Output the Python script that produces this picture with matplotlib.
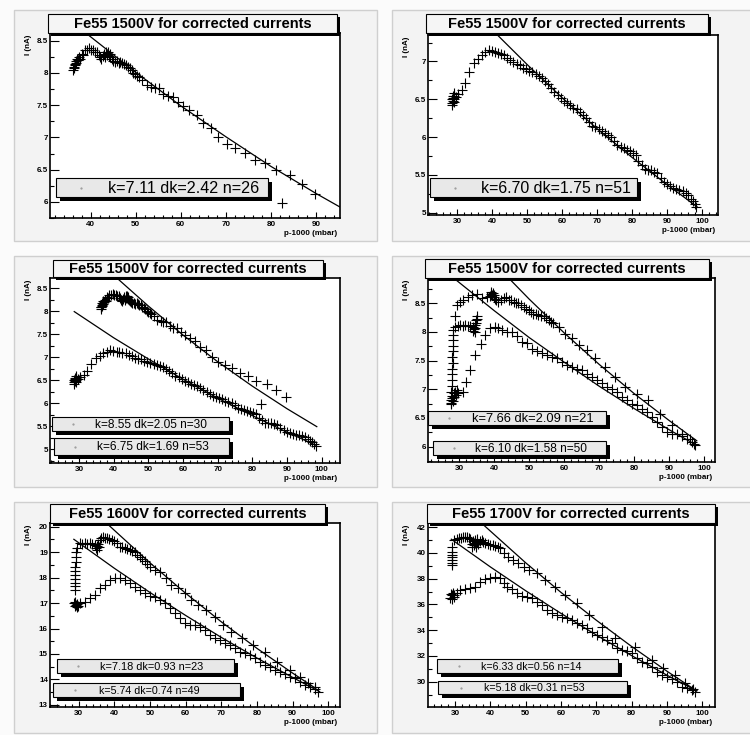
import matplotlib
matplotlib.use("Agg")
import matplotlib.pyplot as plt
from matplotlib.patches import Rectangle
from matplotlib.ticker import MultipleLocator, FuncFormatter

plt.rcParams['font.family'] = ['Liberation Sans', 'DejaVu Sans']
plt.rcParams['font.weight'] = 'bold'

# ---- Fe55 1500V, first run (upper curve of the middle-left pad) ----
fe1500_a_x = [36.2, 36.3, 36.4, 36.5, 36.6, 36.7, 36.8, 37.0, 37.2, 37.4, 37.7, 38.0,
              38.3, 38.7, 39.2, 39.7, 40.2, 40.6, 41.0, 41.4, 41.8, 42.1, 42.4, 42.7,
              43.0, 43.2, 43.4, 43.6, 43.8, 44.0, 44.2, 44.4, 44.7, 45.0, 45.4, 45.8,
              46.2, 46.6, 47.0, 47.4, 47.8, 48.2, 48.7, 49.1, 49.5, 49.9, 50.4, 50.8,
              51.5, 52.4, 53.5, 54.3, 55.2, 56.1, 57.2, 58.3, 59.4, 60.5, 61.9, 63.5,
              65.0, 66.6, 68.3, 70.2, 72.0, 74.2, 76.4, 78.7, 81.2, 82.4, 84.2, 86.8, 89.7]
fe1500_a_y = [8.05, 8.10, 8.08, 8.14, 8.12, 8.18, 8.16, 8.22, 8.20, 8.25, 8.22, 8.30,
              8.28, 8.35, 8.36, 8.38, 8.36, 8.35, 8.32, 8.33, 8.28, 8.25, 8.22, 8.27,
              8.30, 8.25, 8.32, 8.28, 8.33, 8.27, 8.30, 8.24, 8.22, 8.19, 8.17, 8.18,
              8.15, 8.17, 8.16, 8.14, 8.13, 8.10, 8.07, 8.04, 8.00, 7.99, 7.96, 7.94,
              7.89, 7.81, 7.78, 7.76, 7.76, 7.68, 7.64, 7.63, 7.55, 7.48, 7.42, 7.35,
              7.23, 7.15, 7.01, 6.90, 6.83, 6.76, 6.65, 6.60, 6.49, 5.98, 6.41, 6.28, 6.13]

# ---- Fe55 1500V, second run (top-right pad, lower curve of middle-left pad) ----
fe1500_b_x = [28.5, 28.6, 28.7, 28.8, 28.9, 29.0, 29.1, 29.2, 28.6, 29.0, 29.6, 30.3,
              31.3, 32.3, 33.5, 34.8, 36.0, 37.0, 38.0, 39.0, 39.9, 40.8, 41.6, 42.5,
              43.4, 44.3, 45.2, 46.1, 47.0, 47.9, 48.8, 49.7, 50.6, 51.5, 52.4, 53.3,
              54.2, 55.1, 56.0, 56.9, 57.8, 58.7, 59.6, 60.5, 61.4, 62.3, 63.2, 64.1,
              65.0, 65.9, 66.8, 67.7, 68.6, 69.5, 70.4, 71.3, 72.2, 73.1, 74.0, 74.9,
              75.8, 76.7, 77.6, 78.5, 79.4, 80.3, 81.0, 81.8, 82.7, 83.6, 84.5, 85.4,
              86.3, 87.2, 88.1, 89.0, 89.9, 90.8, 91.7, 92.6, 93.5, 94.4, 95.3, 96.0,
              96.7, 97.3, 97.9, 98.3]
fe1500_b_y = [6.45, 6.50, 6.55, 6.48, 6.52, 6.46, 6.58, 6.50, 6.42, 6.54, 6.53, 6.57,
              6.62, 6.71, 6.86, 6.98, 7.03, 7.09, 7.12, 7.15, 7.14, 7.12, 7.11, 7.10,
              7.08, 7.05, 7.02, 6.99, 6.97, 6.95, 6.92, 6.90, 6.88, 6.86, 6.84, 6.81,
              6.78, 6.74, 6.70, 6.65, 6.60, 6.56, 6.52, 6.48, 6.45, 6.42, 6.39, 6.37,
              6.33, 6.29, 6.25, 6.20, 6.15, 6.13, 6.11, 6.08, 6.05, 6.03, 6.00, 5.95,
              5.89, 5.87, 5.85, 5.83, 5.81, 5.79, 5.76, 5.68, 5.63, 5.58, 5.57, 5.56,
              5.54, 5.52, 5.46, 5.41, 5.38, 5.35, 5.33, 5.31, 5.30, 5.29, 5.26, 5.23,
              5.18, 5.15, 5.12, 5.08]

# ---- Fe55 1500V, middle-right pad ----
fe1500_c_up_x = [27.8, 27.9, 27.8, 27.9, 28.0, 27.9, 28.0, 28.1, 28.0, 28.1, 28.2, 28.1,
                 28.2, 28.3, 28.9, 29.6, 30.3, 31.0, 31.7, 32.4, 33.1, 33.8, 34.0, 34.2,
                 34.4, 34.6, 34.8, 35.0, 35.1, 34.9, 34.5, 28.7, 29.3, 30.2, 31.0, 32.5,
                 33.6, 35.0, 36.5, 37.9, 38.8, 39.0, 39.2, 39.4, 39.6, 39.8, 40.0, 40.3,
                 40.6, 41.2, 42.0, 42.7, 43.4, 44.1, 44.8, 45.5, 46.2, 46.9, 47.7, 48.4,
                 49.1, 49.8, 50.5, 51.2, 51.9, 52.6, 53.4, 54.1, 54.8, 55.5, 56.2, 56.9,
                 58.4, 60.3, 62.2, 64.1, 66.4, 68.8, 71.7, 74.5, 77.4, 80.7, 84.0, 87.4,
                 90.7, 93.6, 95.9, 96.9]
fe1500_c_up_y = [6.75, 6.85, 6.95, 7.05, 7.16, 7.26, 7.36, 7.46, 7.56, 7.66, 7.76, 7.86,
                 7.95, 8.04, 8.09, 8.10, 8.12, 8.11, 8.12, 8.10, 8.11, 8.02, 8.08, 8.05,
                 8.12, 8.07, 8.16, 8.22, 8.27, 8.20, 8.00, 8.27, 8.47, 8.52, 8.56, 8.60,
                 8.65, 8.66, 8.59, 8.60, 8.62, 8.66, 8.70, 8.64, 8.68, 8.60, 8.65, 8.58,
                 8.55, 8.52, 8.56, 8.59, 8.60, 8.56, 8.55, 8.53, 8.51, 8.50, 8.47, 8.44,
                 8.40, 8.38, 8.34, 8.32, 8.31, 8.30, 8.28, 8.27, 8.24, 8.21, 8.18, 8.15,
                 8.09, 7.97, 7.89, 7.77, 7.68, 7.54, 7.39, 7.21, 7.04, 6.92, 6.81, 6.57,
                 6.37, 6.22, 6.13, 6.05]
fe1500_c_lo_x = [27.6, 27.8, 28.0, 28.2, 28.4, 28.6, 28.8, 29.0, 29.3, 29.8, 31.0, 31.9,
                 33.1, 34.6, 36.3, 37.4, 38.8, 40.3, 41.2, 42.2, 43.6, 45.0, 46.5, 47.9,
                 49.3, 50.7, 52.2, 53.6, 55.0, 56.5, 57.9, 59.3, 60.7, 62.2, 63.6, 65.0,
                 66.4, 67.9, 69.3, 70.7, 72.2, 73.6, 75.0, 76.4, 77.9, 79.3, 80.7, 82.1,
                 83.6, 85.0, 86.4, 87.9, 89.3, 90.7, 92.1, 93.6, 95.0, 96.4, 97.2]
fe1500_c_lo_y = [6.76, 6.82, 6.88, 6.80, 6.93, 6.86, 6.95, 6.90, 6.98, 6.94, 6.95, 7.13,
                 7.33, 7.59, 7.78, 7.94, 8.06, 8.09, 8.06, 8.03, 8.00, 7.99, 7.92, 7.83,
                 7.80, 7.71, 7.66, 7.64, 7.59, 7.57, 7.54, 7.48, 7.43, 7.39, 7.36, 7.33,
                 7.27, 7.21, 7.16, 7.10, 7.04, 7.01, 6.95, 6.86, 6.81, 6.75, 6.72, 6.66,
                 6.60, 6.51, 6.43, 6.34, 6.25, 6.22, 6.22, 6.19, 6.13, 6.08, 6.02]

# ---- Fe55 1600V ----
fe1600_up_x = [28.8, 28.9, 28.8, 28.9, 29.0, 28.9, 29.0, 29.1, 29.2, 29.3, 29.5, 30.3,
               31.0, 31.7, 32.4, 33.1, 33.8, 34.5, 34.8, 35.0, 35.2, 35.4, 35.6, 35.9,
               36.3, 36.8, 37.3, 37.8, 38.5, 39.2, 39.9, 40.6, 41.5, 42.2, 42.9, 43.6,
               44.3, 45.0, 45.7, 46.4, 47.1, 47.8, 48.5, 49.2, 49.9, 51.3, 52.7, 54.6,
               56.0, 57.9, 59.7, 61.6, 63.5, 65.8, 68.2, 70.5, 72.8, 75.7, 78.9, 82.2,
               85.5, 89.2, 92.0, 94.4, 96.2]
fe1600_up_y = [17.50, 17.65, 17.80, 17.95, 18.10, 18.25, 18.40, 18.60, 18.80, 19.00, 19.15, 19.35,
               19.33, 19.35, 19.32, 19.35, 19.30, 19.28, 19.15, 19.22, 19.10, 19.30, 19.18, 19.48,
               19.55, 19.60, 19.55, 19.54, 19.50, 19.48, 19.42, 19.35, 19.20, 19.18, 19.15, 19.12,
               19.08, 19.03, 19.00, 18.90, 18.82, 18.72, 18.63, 18.53, 18.43, 18.30, 18.23, 17.97,
               17.71, 17.58, 17.38, 17.12, 16.92, 16.73, 16.47, 16.14, 15.88, 15.62, 15.35, 15.09,
               14.70, 14.37, 14.08, 13.85, 13.72]
fe1600_lo_x = [28.6, 28.8, 29.0, 29.2, 29.4, 29.6, 29.8, 30.3, 31.7, 33.1, 34.5, 35.9,
               37.3, 38.7, 40.1, 41.5, 42.9, 44.3, 45.7, 47.1, 48.5, 49.9, 51.3, 52.7,
               54.1, 55.5, 56.9, 58.3, 59.7, 61.2, 62.6, 64.0, 65.4, 66.8, 68.2, 69.6,
               71.0, 72.4, 73.8, 75.2, 76.6, 78.0, 79.4, 80.8, 82.2, 83.6, 85.0, 86.4,
               87.8, 89.2, 90.6, 92.0, 93.4, 94.8, 96.2, 97.2]
fe1600_lo_y = [16.99, 16.90, 17.05, 16.92, 16.97, 16.85, 16.88, 16.99, 17.05, 17.19, 17.32, 17.58,
               17.71, 17.91, 17.97, 17.97, 17.91, 17.78, 17.64, 17.51, 17.38, 17.28, 17.23, 17.12,
               16.99, 16.79, 16.60, 16.40, 16.23, 16.14, 16.14, 16.07, 15.94, 15.75, 15.62, 15.55,
               15.45, 15.35, 15.22, 15.09, 15.03, 14.96, 14.83, 14.70, 14.57, 14.50, 14.37, 14.31,
               14.21, 14.11, 14.04, 13.91, 13.78, 13.69, 13.61, 13.52]

# ---- Fe55 1700V ----
fe1700_up_x = [29.0, 29.0, 29.1, 29.0, 29.1, 29.2, 29.2, 29.8, 30.4, 31.0, 31.6, 32.1,
               32.7, 33.3, 33.8, 34.2, 34.7, 34.9, 35.1, 35.3, 35.5, 35.7, 35.9, 36.1,
               36.3, 36.6, 37.0, 37.5, 38.0, 38.5, 39.2, 39.9, 40.6, 41.3, 42.0, 42.7,
               43.7, 45.1, 46.5, 47.9, 49.4, 50.8, 53.1, 55.5, 58.3, 61.2, 64.5, 67.8,
               71.6, 75.3, 81.0, 85.7, 89.0, 92.3, 95.1, 97.5]
fe1700_up_y = [39.05, 39.25, 39.45, 39.65, 39.85, 40.10, 40.50, 41.00, 41.10, 41.15, 41.20, 41.27,
               41.22, 41.27, 41.15, 41.07, 40.70, 40.45, 40.90, 40.60, 41.00, 40.75, 40.50, 40.85,
               41.05, 40.70, 40.90, 41.00, 40.85, 40.76, 40.70, 40.63, 40.60, 40.55, 40.45, 40.37,
               39.98, 39.72, 39.46, 39.20, 38.94, 38.68, 38.42, 37.90, 37.39, 36.74, 36.09, 35.19,
               34.28, 33.37, 32.73, 31.69, 31.04, 30.52, 29.88, 29.41]
fe1700_lo_x = [28.6, 28.8, 29.0, 29.2, 29.4, 29.6, 29.8, 30.5, 31.4, 32.8, 34.2, 35.7,
               37.1, 38.5, 39.9, 41.3, 42.7, 43.7, 44.6, 46.1, 47.5, 48.9, 50.3, 51.7,
               53.1, 54.5, 56.0, 57.4, 58.8, 60.2, 61.6, 63.0, 64.5, 65.9, 67.3, 68.7,
               70.1, 71.5, 73.0, 74.4, 75.8, 77.2, 78.6, 80.0, 81.4, 82.9, 84.3, 85.7,
               87.1, 88.5, 90.0, 91.4, 92.8, 94.2, 95.6, 97.0, 97.9]
fe1700_lo_y = [36.50, 36.80, 36.40, 36.70, 36.90, 36.55, 36.75, 36.90, 37.13, 37.18, 37.26, 37.39,
               37.78, 37.96, 38.04, 38.11, 38.04, 37.65, 37.39, 37.18, 36.87, 36.66, 36.61, 36.48,
               36.22, 35.96, 35.58, 35.32, 35.19, 35.06, 34.93, 34.80, 34.54, 34.41, 34.15, 33.89,
               33.63, 33.50, 33.24, 32.98, 32.60, 32.47, 32.39, 32.21, 31.82, 31.56, 31.43, 31.17,
               30.78, 30.52, 30.34, 30.19, 30.00, 29.62, 29.49, 29.36, 29.23]

# ---- fitted curves ----
fit_a_x = [37.0, 39.3, 50.0, 60.0, 70.0, 80.0, 90.0, 95.3]
fit_a_y = [8.73, 8.60, 8.01, 7.49, 7.01, 6.55, 6.13, 5.92]
fit_b_x = [28.6, 40.0, 50.0, 60.0, 70.0, 80.0, 90.0, 98.5]
fit_b_y = [7.99, 7.42, 6.96, 6.52, 6.11, 5.73, 5.37, 5.08]
fit_a2_x = [38.0, 40.9, 50.0, 60.0, 70.0, 80.0, 90.0, 98.6]
fit_a2_y = [8.92, 8.72, 8.11, 7.48, 6.90, 6.37, 5.88, 5.49]
fit_c_up_x = [42.0, 44.1, 50.0, 60.0, 70.0, 80.0, 90.0, 97.8]
fit_c_up_y = [9.07, 8.94, 8.57, 7.98, 7.43, 6.92, 6.45, 6.10]
fit_c_lo_x = [27.0, 28.4, 40.0, 50.0, 60.0, 70.0, 80.0, 90.0, 97.8]
fit_c_lo_y = [9.01, 8.94, 8.37, 7.90, 7.47, 7.05, 6.66, 6.29, 6.02]
fit_1600_up_x = [36.0, 37.8, 50.0, 60.0, 70.0, 80.0, 90.0, 96.5]
fit_1600_up_y = [20.37, 20.13, 18.57, 17.38, 16.26, 15.22, 14.25, 13.65]
fit_1600_lo_x = [28.6, 40.0, 50.0, 60.0, 70.0, 80.0, 90.0, 97.6]
fit_1600_lo_y = [19.50, 18.36, 17.41, 16.51, 15.65, 14.84, 14.08, 13.52]
fit_1700_up_x = [36.0, 37.5, 50.0, 60.0, 70.0, 80.0, 90.0, 98.4]
fit_1700_up_y = [42.70, 42.31, 39.23, 36.93, 34.77, 32.73, 30.81, 29.28]
fit_1700_lo_x = [28.9, 40.0, 50.0, 60.0, 70.0, 80.0, 90.0, 98.4]
fit_1700_lo_y = [41.07, 38.91, 37.06, 35.30, 33.62, 32.02, 30.50, 29.28]

titles = ["Fe55 1500V for corrected currents", "Fe55 1500V for corrected currents",
          "Fe55 1500V for corrected currents", "Fe55 1500V for corrected currents",
          "Fe55 1600V for corrected currents", "Fe55 1700V for corrected currents"]
legend_texts = [["k=7.11 dk=2.42 n=26"],
                ["k=6.70 dk=1.75 n=51"],
                ["k=8.55 dk=2.05 n=30", "k=6.75 dk=1.69 n=53"],
                ["k=7.66 dk=2.09 n=21", "k=6.10 dk=1.58 n=50"],
                ["k=7.18 dk=0.93 n=23", "k=5.74 dk=0.74 n=49"],
                ["k=6.33 dk=0.56 n=14", "k=5.18 dk=0.31 n=53"]]
x_label = "p-1000 (mbar)"
y_label = "I (nA)"

W, H = 750, 735

# pixel layout of each pad: frame, title box, legend boxes (x0, y0, x1, y1)
pads = [
    dict(pad=(14, 10, 377, 241), frame=(50, 33, 340, 218), title=(48, 14, 337, 33),
         legends=[(56, 178, 268, 197)], lfs=[11.6], xlim=(31, 95.3), ylim=(5.75, 8.62),
         ymaj=0.5, ymin=0.25,
         series=[(fe1500_a_x, fe1500_a_y)], fits=[(fit_a_x, fit_a_y)]),
    dict(pad=(392, 10, 755, 241), frame=(428, 35, 718, 215), title=(426, 14, 708, 33),
         legends=[(430, 178, 637, 197)], lfs=[11.4], xlim=(21.7, 104.5), ylim=(4.97, 7.35),
         ymaj=0.5, ymin=0.25,
         series=[(fe1500_b_x, fe1500_b_y)], fits=[(fit_b_x, fit_b_y)]),
    dict(pad=(14, 256, 377, 487), frame=(50, 278, 340, 463), title=(53, 260, 323, 277),
         legends=[(52, 417, 229, 431), (54, 438, 229, 455)], lfs=[8.6, 8.6],
         xlim=(21.6, 105.3), ylim=(4.70, 8.72), ymaj=0.5, ymin=0.25,
         series=[(fe1500_a_x, fe1500_a_y), (fe1500_b_x, fe1500_b_y)],
         fits=[(fit_a2_x, fit_a2_y), (fit_b_x, fit_b_y)]),
    dict(pad=(392, 256, 755, 487), frame=(428, 278, 715, 462), title=(425, 259, 709, 278),
         legends=[(428, 411, 606, 425), (433, 441, 606, 455)], lfs=[9.3, 8.6],
         xlim=(21.1, 103.0), ylim=(5.73, 8.94), ymaj=0.5, ymin=0.25,
         series=[(fe1500_c_up_x, fe1500_c_up_y), (fe1500_c_lo_x, fe1500_c_lo_y)],
         fits=[(fit_c_up_x, fit_c_up_y), (fit_c_lo_x, fit_c_lo_y)]),
    dict(pad=(14, 502, 377, 733), frame=(50, 523, 340, 707), title=(50, 504, 325, 523),
         legends=[(57, 659, 234, 673), (53, 683, 240, 697)], lfs=[7.9, 7.7],
         xlim=(21.9, 103.3), ylim=(12.92, 20.14), ymaj=1, ymin=0.5,
         series=[(fe1600_up_x, fe1600_up_y), (fe1600_lo_x, fe1600_lo_y)],
         fits=[(fit_1600_up_x, fit_1600_up_y), (fit_1600_lo_x, fit_1600_lo_y)]),
    dict(pad=(392, 502, 755, 733), frame=(428, 523, 715, 707), title=(427, 504, 715, 523),
         legends=[(437, 659, 618, 673), (438, 681, 627, 694)], lfs=[7.7, 7.7],
         xlim=(22.3, 103.6), ylim=(28.03, 42.33), ymaj=2, ymin=1,
         series=[(fe1700_up_x, fe1700_up_y), (fe1700_lo_x, fe1700_lo_y)],
         fits=[(fit_1700_up_x, fit_1700_up_y), (fit_1700_lo_x, fit_1700_lo_y)]),
]


def fig_rect(box):
    x0, y0, x1, y1 = box
    return [x0 / W, 1 - y1 / H, (x1 - x0) / W, (y1 - y0) / H]


fig = plt.figure(figsize=(W / 100, H / 100), dpi=100, facecolor='#fbfbfb')
bg = fig.add_axes([0, 0, 1, 1], zorder=0)
fg = fig.add_axes([0, 0, 1, 1], zorder=5)
for a in (bg, fg):
    a.set_xlim(0, W)
    a.set_ylim(H, 0)
    a.axis('off')

fmt = FuncFormatter(lambda v, pos: '%g' % round(v, 3))

for i, p in enumerate(pads):
    # pad background
    px0, py0, px1, py1 = p['pad']
    bg.add_patch(Rectangle((px0, py0), px1 - px0, py1 - py0, fc='#f3f3f3',
                           ec='#cfcfcf', lw=1))

    ax = fig.add_axes(fig_rect(p['frame']), zorder=2)
    ax.set_facecolor('white')
    for s in p['series']:
        ax.plot(s[0], s[1], linestyle='none', marker='+', ms=6.8, mew=0.8, color='black')
    for f in p['fits']:
        ax.plot(f[0], f[1], color='black', lw=0.9)
    ax.set_xlim(*p['xlim'])
    ax.set_ylim(*p['ylim'])
    ax.xaxis.set_major_locator(MultipleLocator(10))
    ax.xaxis.set_minor_locator(MultipleLocator(2))
    ax.yaxis.set_major_locator(MultipleLocator(p['ymaj']))
    ax.yaxis.set_minor_locator(MultipleLocator(p['ymin']))
    ax.xaxis.set_major_formatter(fmt)
    ax.yaxis.set_major_formatter(fmt)
    ax.tick_params(axis='x', which='major', direction='in', length=4, width=0.8,
                   labelsize=5.8, pad=2.5)
    ax.tick_params(axis='x', which='minor', direction='in', length=2, width=0.8)
    ax.tick_params(axis='y', which='major', direction='in', length=6.3, width=0.8,
                   labelsize=5.8, pad=1.5)
    ax.tick_params(axis='y', which='minor', direction='in', length=3.2, width=0.8)
    for sp in ax.spines.values():
        sp.set_linewidth(1.2)

    fx0, fy0, fx1, fy1 = p['frame']
    fg.text(fx1 - 3, fy1 + 17, x_label, ha='right', va='baseline', fontsize=5.8)
    fg.text(fx0 - 21, fy0 + 2, y_label, rotation=90, ha='center', va='top', fontsize=5.8)

    # title box with shadow
    tx0, ty0, tx1, ty1 = p['title']
    fg.add_patch(Rectangle((tx0 + 3, ty0 + 3), tx1 - tx0, ty1 - ty0, fc='black', ec='none'))
    fg.add_patch(Rectangle((tx0, ty0), tx1 - tx0, ty1 - ty0, fc='#f5f5f5', ec='black', lw=0.8))
    fg.text((tx0 + tx1) / 2, (ty0 + ty1) / 2 + 0.5, titles[i], ha='center', va='center',
            fontsize=10.5)

    # legend boxes with shadow
    for lb, txt, fs in zip(p['legends'], legend_texts[i], p['lfs']):
        lx0, ly0, lx1, ly1 = lb
        w, h = lx1 - lx0, ly1 - ly0
        fg.add_patch(Rectangle((lx0 + 4, ly0 + 4), w, h, fc='black', ec='none'))
        fg.add_patch(Rectangle((lx0, ly0), w, h, fc='#e8e8e8', ec='black', lw=0.8))
        fg.plot(lx0 + 0.12 * w, ly0 + h / 2, marker='.', ms=1.2, color='#999999')
        fg.text(lx0 + 0.245 * w, ly0 + h / 2 + 0.5, txt, ha='left', va='center',
                fontsize=fs, fontweight='normal')

fig.savefig('out.png', dpi=100, facecolor=fig.get_facecolor())
